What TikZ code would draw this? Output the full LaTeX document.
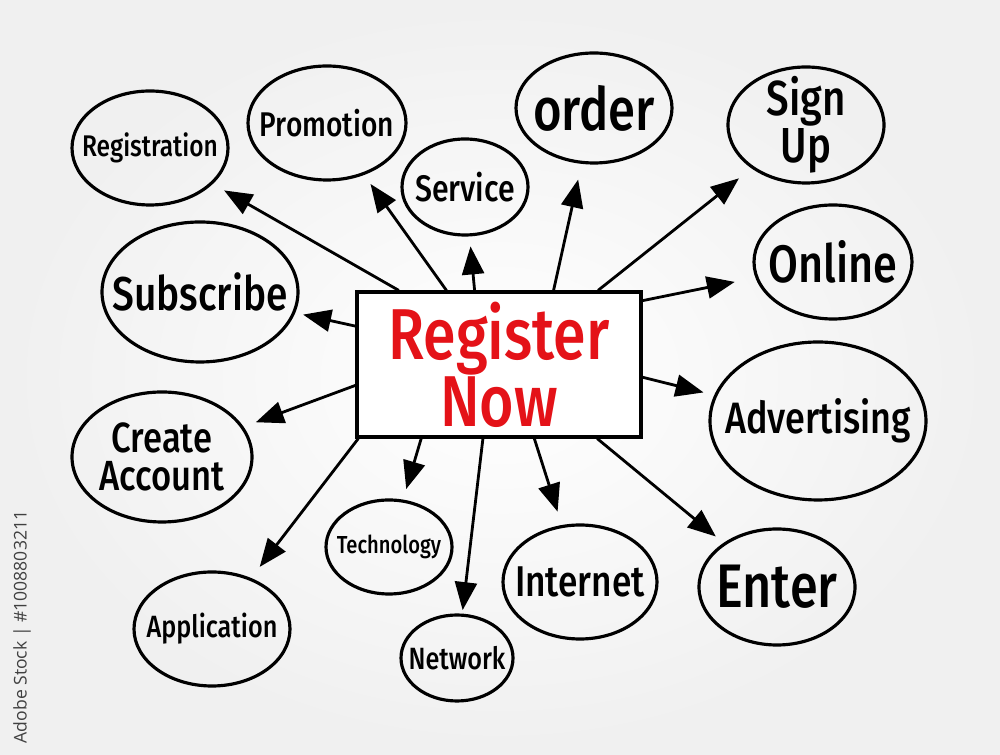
\documentclass[tikz,border=0pt]{standalone}
\usepackage{fontspec}
\setmainfont{Fira Sans}[FakeStretch=0.82, BoldFont={* Medium}]
\newfontfamily\stockfont{Open Sans}
\usetikzlibrary{arrows.meta, calc, positioning, shapes.geometric}
\definecolor{markerred}{RGB}{228,18,24}

\tikzset{
  bubble/.style={ellipse, draw, line width=1.8pt, inner sep=0pt},
  spoke/.style={line width=1.6pt, -{Triangle[length=0.56cm, width=0.44cm]}},
}

\begin{document}
\begin{tikzpicture}
    \useasboundingbox (0,0) rectangle (20,15.1);
    \shade[inner color=white, outer color=black!6] (0,0) rectangle (20,15.1);

    \node[rotate=90, text=black!75, font=\stockfont\fontsize{10}{12}\selectfont] (stock_mark) at (0.44,2.56) {Adobe Stock | \#1008803211};

    % centre
    \node[draw, line width=1.8pt, minimum width=5.68cm, minimum height=2.9cm, fill=white,
      text=markerred, align=center, font=\fontsize{41}{36}\selectfont\bfseries] (register_box) at (9.98,7.81) {Register\\Now};

    % bubbles
    \node[bubble, minimum width=3.12cm, minimum height=2.28cm,
      label={[font=\fontsize{17}{17}\selectfont\bfseries]center:Registration}] (registration) at (3.00,12.14) {};
    \node[bubble, minimum width=3.16cm, minimum height=2.28cm,
      label={[font=\fontsize{19.5}{19}\selectfont\bfseries]center:Promotion}] (promotion) at (6.54,12.64) {};
    \node[bubble, minimum width=2.52cm, minimum height=1.92cm,
      label={[font=\fontsize{21}{20}\selectfont\bfseries]center:Service}] (service) at (9.30,11.36) {};
    \node[bubble, minimum width=3.12cm, minimum height=2.20cm,
      label={[font=\fontsize{34}{30}\selectfont\bfseries]center:order}] (order) at (11.88,12.94) {};
    \node[bubble, minimum width=3.12cm, minimum height=2.32cm,
      label={[align=center, font=\fontsize{28}{25}\selectfont\bfseries]center:{Sign\\Up}}] (sign_up) at (16.12,12.60) {};
    \node[bubble, minimum width=3.16cm, minimum height=2.28cm,
      label={[font=\fontsize{30}{27}\selectfont\bfseries]center:Online}] (online) at (16.66,9.86) {};
    \node[bubble, minimum width=4.32cm, minimum height=3.16cm,
      label={[font=\fontsize{25}{23}\selectfont\bfseries]center:Advertising}] (advertising) at (16.36,6.68) {};
    \node[bubble, minimum width=3.12cm, minimum height=2.32cm,
      label={[font=\fontsize{35}{31}\selectfont\bfseries]center:Enter}] (enter) at (15.54,3.36) {};
    \node[bubble, minimum width=3.08cm, minimum height=2.28cm,
      label={[font=\fontsize{24.5}{22}\selectfont\bfseries]center:Internet}] (internet) at (11.60,3.46) {};
    \node[bubble, minimum width=2.24cm, minimum height=1.72cm,
      label={[font=\fontsize{17.5}{17}\selectfont\bfseries]center:Network}] (network) at (9.14,1.94) {};
    \node[bubble, minimum width=2.52cm, minimum height=1.88cm,
      label={[font=\fontsize{14}{14}\selectfont\bfseries]center:Technology}] (technology) at (7.78,4.16) {};
    \node[bubble, minimum width=3.12cm, minimum height=2.28cm,
      label={[font=\fontsize{17.5}{17}\selectfont\bfseries]center:Application}] (application) at (4.24,2.52) {};
    \node[bubble, minimum width=3.60cm, minimum height=2.60cm,
      label={[align=center, font=\fontsize{24}{22}\selectfont\bfseries]center:{Create\\Account}}] (create_account) at (3.24,5.96) {};
    \node[bubble, minimum width=3.92cm, minimum height=2.80cm,
      label={[font=\fontsize{27}{25}\selectfont\bfseries]center:Subscribe}] (subscribe) at (4.00,9.26) {};

    % spokes
    \draw[spoke, shorten >=0.26cm] ($(register_box.north west)!0.151!(register_box.north east)$) -- (registration);
    \draw[spoke, shorten >=0.22cm] ($(register_box.north west)!0.317!(register_box.north east)$) -- (promotion);
    \draw[spoke, shorten >=0.20cm] ($(register_box.north west)!0.415!(register_box.north east)$) -- (service);
    \draw[spoke, shorten >=0.32cm] ($(register_box.north west)!0.690!(register_box.north east)$) -- (order);
    \draw[spoke, shorten >=0.32cm] ($(register_box.north west)!0.845!(register_box.north east)$) -- (sign_up);
    \draw[spoke, shorten >=0.42cm] ($(register_box.north east)!0.069!(register_box.south east)$) -- (online);
    \draw[spoke, shorten >=0.22cm] ($(register_box.north east)!0.586!(register_box.south east)$) -- (advertising);
    \draw[spoke, shorten >=0.20cm] ($(register_box.south west)!0.842!(register_box.south east)$) -- (enter);
    \draw[spoke, shorten >=0.28cm] ($(register_box.south west)!0.623!(register_box.south east)$) -- (internet);
    \draw[spoke, shorten >=0.07cm] ($(register_box.south west)!0.444!(register_box.south east)$) -- (network);
    \draw[spoke, shorten >=0.22cm] ($(register_box.south west)!0.229!(register_box.south east)$) -- (technology);
    \draw[spoke, shorten >=0.28cm] ($(register_box.south west)!0.010!(register_box.south east)$) -- (application);
    \draw[spoke, shorten >=0.26cm] ($(register_box.north west)!0.641!(register_box.south west)$) -- (create_account);
    \draw[spoke, shorten >=0.16cm] ($(register_box.north west)!0.241!(register_box.south west)$) -- (subscribe);
\end{tikzpicture}
\end{document}
